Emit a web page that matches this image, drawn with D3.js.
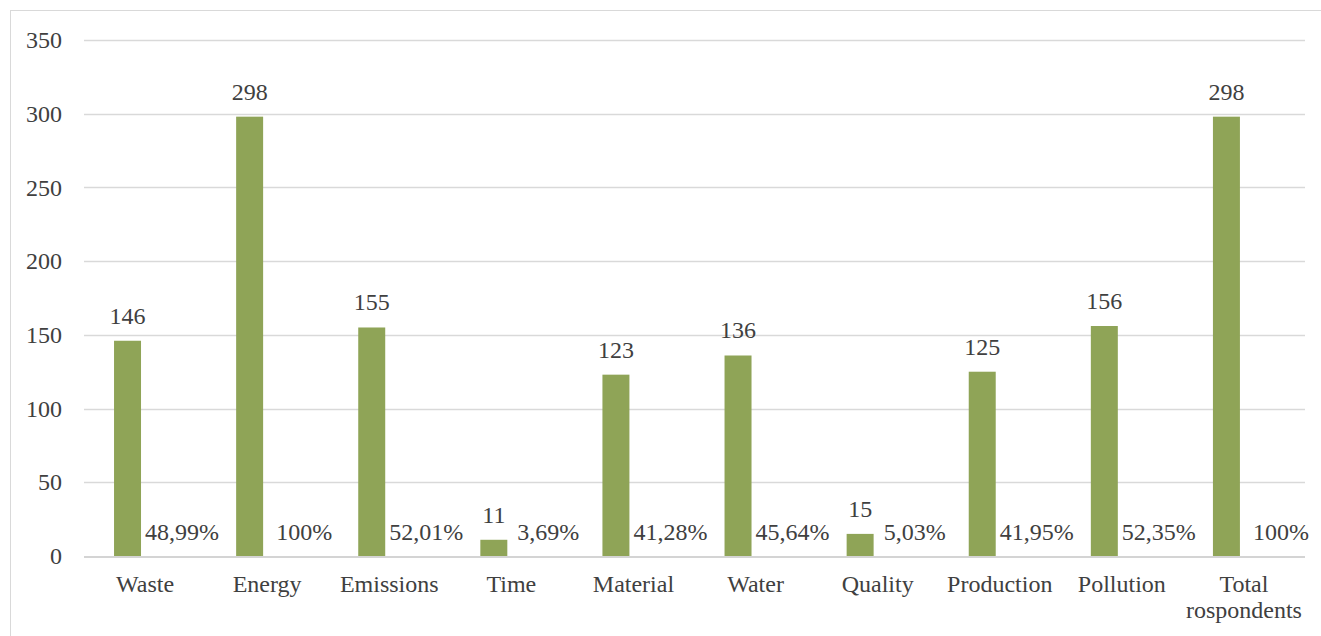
<!DOCTYPE html>
<html>
<head>
<meta charset="utf-8">
<script src="https://cdn.jsdelivr.net/npm/d3@7"></script>
<style>
  html, body { margin: 0; padding: 0; background: #fff; }
  svg { display: block; }
</style>
</head>
<body>
<svg id="chart" width="1321" height="636"></svg>
<script>
const categories = ["Waste", "Energy", "Emissions", "Time", "Material", "Water", "Quality", "Production", "Pollution", "Total rospondents"];
const counts = [146, 298, 155, 11, 123, 136, 15, 125, 156, 298];
const percents = [48.99, 100, 52.01, 3.69, 41.28, 45.64, 5.03, 41.95, 52.35, 100];
const yTicks = [0, 50, 100, 150, 200, 250, 300, 350];

const FONT = "'Liberation Serif', Tinos, 'Times New Roman', 'DejaVu Serif', serif";
const svg = d3.select("#chart")
  .attr("font-family", FONT);
const W = 1321, H = 636;
const plot = { left: 84, right: 1305, top: 40, bottom: 556 };

svg.append("rect")
  .attr("x", 10.5).attr("y", 10.5)
  .attr("width", W + 20).attr("height", H + 20)
  .attr("fill", "#fff").attr("stroke", "#d9d9d9").attr("stroke-width", 1);

const x = d3.scaleBand().domain(categories).range([plot.left, plot.right]).padding(0);
const y = d3.scaleLinear().domain([0, 350]).range([plot.bottom, plot.top]);
const bw = x.bandwidth();

// gridlines
svg.append("g").selectAll("line").data(yTicks.filter(t => t !== 0)).join("line")
  .attr("x1", plot.left).attr("x2", plot.right)
  .attr("y1", d => Math.round(y(d)) + 0.5).attr("y2", d => Math.round(y(d)) + 0.5)
  .attr("stroke", "#d9d9d9").attr("stroke-width", 1.3);

// y axis labels
const yAxis = d3.axisLeft(y).tickValues(yTicks).tickSize(0).tickPadding(22);
const gy = svg.append("g").attr("transform", `translate(${plot.left},0)`).call(yAxis)
  .attr("font-family", FONT).attr("font-size", 24);
gy.select(".domain").remove();
gy.selectAll("text").attr("fill", "#404040");

// bars
svg.append("g").selectAll("rect").data(categories).join("rect")
  .attr("x", d => x(d) + bw * 0.246)
  .attr("width", bw * 0.221)
  .attr("y", (d, i) => y(counts[i]))
  .attr("height", (d, i) => y(0) - y(counts[i]))
  .attr("fill", "#8fa457");

// baseline
svg.append("line")
  .attr("x1", plot.left).attr("x2", plot.right)
  .attr("y1", y(0) + 1).attr("y2", y(0) + 1)
  .attr("stroke", "#d4d4d4").attr("stroke-width", 2);

// value labels
svg.append("g").selectAll("text").data(categories).join("text")
  .attr("x", d => x(d) + bw * 0.246 + bw * 0.1105)
  .attr("y", (d, i) => y(counts[i]) - 17)
  .attr("text-anchor", "middle")
  .attr("font-size", 24).attr("fill", "#404040")
  .text((d, i) => counts[i]);

// percent labels
const fmtPct = v => (v === 100 ? "100" : v.toFixed(2).replace(".", ",")) + "%";
svg.append("g").selectAll("text").data(categories).join("text")
  .attr("x", d => x(d) + bw / 2 + 37)
  .attr("y", y(0) - 16)
  .attr("text-anchor", "middle")
  .attr("font-size", 24).attr("fill", "#404040")
  .text((d, i) => fmtPct(percents[i]));

// category labels (wrapped)
const xl = svg.append("g");
categories.forEach(c => {
  const t = xl.append("text")
    .attr("x", x(c) + bw / 2)
    .attr("y", 592)
    .attr("text-anchor", "middle")
    .attr("font-size", 24).attr("fill", "#404040");
  t.text(c);
  if (t.node().getComputedTextLength() > bw) {
    t.text(null);
    c.split(" ").forEach((w, j) => {
      t.append("tspan").attr("x", x(c) + bw / 2).attr("dy", j === 0 ? 0 : 26).text(w);
    });
  }
});
</script>
</body>
</html>
